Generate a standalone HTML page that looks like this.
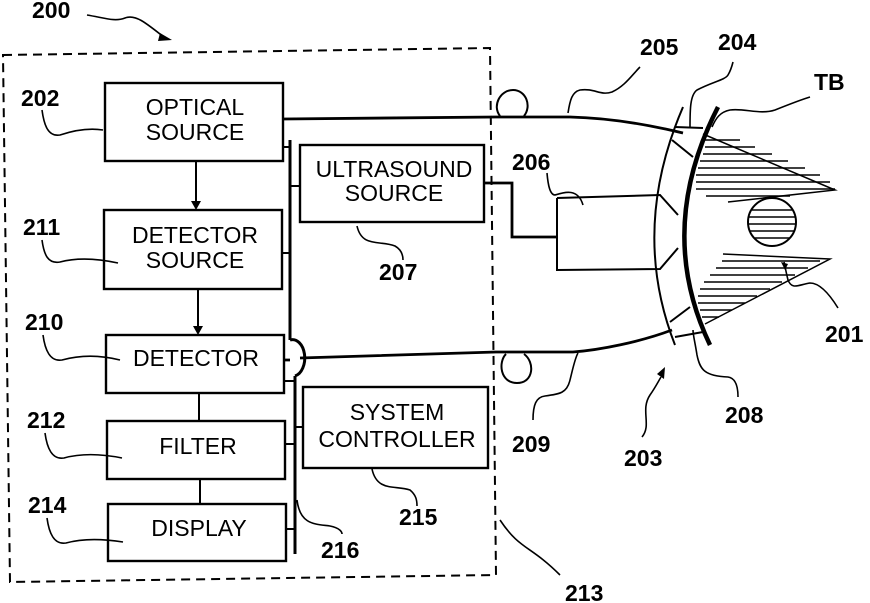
<!DOCTYPE html>
<html><head><style>body{margin:0;background:#fff}svg{display:block}</style></head><body>
<svg width="870" height="603" viewBox="0 0 870 603" xmlns="http://www.w3.org/2000/svg" font-family="Liberation Sans, sans-serif">
<g fill="none" stroke="#000" stroke-width="2.4">
<path d="M3,55 L490,48 L496,575 L10,582 Z" stroke-dasharray="9,6" stroke-width="2"/>
<rect x="105" y="83" width="178" height="78"/>
<rect x="104" y="210" width="178" height="79"/>
<rect x="106" y="335" width="178" height="58"/>
<rect x="107" y="421" width="178" height="58"/>
<rect x="108" y="504" width="178" height="57"/>
<rect x="300" y="145" width="184" height="77"/>
<rect x="303" y="387" width="185" height="81"/>
<path d="M290,140 V340 M295,376 V554" stroke-width="3"/>
<path d="M290,340 A12,18 0 0 1 295,376" stroke-width="3"/>
<path d="M283,147 H290 M282,253 H290 M290,186 H300 M284,381 H295 M285,444 H295 M295,427 H303 M286,529 H295" stroke-width="2"/>
<path d="M196,161 V201 M198,289 V326 M199,393 V421 M200,479 V504" stroke-width="2"/>
<path d="M283,119 L496,117 L570,117 C610,118 650,125 683,133" stroke-width="2.8"/>
<path d="M500,116 C492,106 500,90 513,90 C526,90 532,106 524,116" stroke-width="2"/>
<path d="M284,360 H290 M300,358 L496,352 L573,352 C600,350 640,342 672,330" stroke-width="2.8"/>
<path d="M506,354 C498,362 500,383 517,383 C534,383 535,362 524,354" stroke-width="2"/>
<path d="M484,183 H512 V237 H557" stroke-width="2.8"/>
<path d="M557,198 L660,195 L678,215 M557,198 V270 L660,269 L678,248" stroke-width="2"/>
<path d="M683,107 Q630,230 675,345" stroke-width="2"/>
<path d="M718,107 Q655,230 710,345" stroke-width="4.5"/>
<path d="M675,127 L703,128 M672,140 L693,157 M670,322 L690,307 M675,337 L703,332" stroke-width="2"/>
</g>
<polygon points="191,201 201,201 196,210" fill="#000"/>
<polygon points="193,326 203,326 198,335" fill="#000"/>
<g stroke="#000" stroke-width="1.5" fill="none">
<path d="M703,134 L835,190 L728,202"/>
<path d="M723,254 L830,259 L705,324"/>
<circle cx="772" cy="222" r="24" stroke-width="2"/>
<path d="M705,140H740M705,147H755M703,154H772M700,161H788M698,168H805M696,175H820M696,182H830M696,189H835M706,196H790"/>
<path d="M752,210H792M748,217H796M748,224H796M750,231H794M755,238H790"/>
<path d="M722,261H820M716,268H808M710,275H795M704,282H782M700,289H770M698,296H757M698,303H745M700,310H732M702,317H719"/>
</g>
<g fill="none" stroke="#000" stroke-width="1.6">
<path d="M87,15 C105,18 115,22 125,18 C135,14 145,22 165,38"/>
<path d="M42,110 C44,125 48,137 60,135 C75,130 90,128 103,130"/>
<path d="M42,240 C44,255 48,264 60,262 C75,258 95,258 118,263"/>
<path d="M43,335 C45,350 50,362 62,360 C80,355 100,355 120,360"/>
<path d="M45,433 C47,448 52,460 64,458 C82,453 102,454 122,458"/>
<path d="M47,518 C49,533 54,545 66,543 C84,538 104,539 123,542"/>
<path d="M357,226 C362,248 380,240 395,246 C402,250 403,256 403,260"/>
<path d="M372,469 C377,492 395,485 410,490 C416,495 417,500 417,506"/>
<path d="M297,500 C300,525 315,524 330,526 C340,528 342,532 342,534"/>
<path d="M500,520 C520,550 530,545 560,575"/>
<path d="M533,420 C533,405 536,397 545,396 C560,394 567,393 570,380 C573,368 575,358 578,353"/>
<path d="M642,437 C652,425 640,410 650,395 C655,388 658,382 661,377"/>
<path d="M738,397 C738,385 735,378 728,377 C705,376 700,370 697,355 C695,342 693,335 693,330"/>
<path d="M838,308 C830,295 820,283 810,283 C798,285 792,290 788,280 C786,272 785,266 784,262"/>
<path d="M547,173 C548,185 550,195 555,195 C565,192 578,188 583,205"/>
<path d="M568,113 C570,100 572,92 580,90 C595,88 600,96 612,92 C625,86 632,75 640,67"/>
<path d="M690,128 C690,110 690,95 697,90 C712,82 725,80 728,75 C731,70 732,66 733,62"/>
<path d="M712,127 C716,118 720,112 730,110 C745,108 760,115 775,110 C790,104 800,100 810,97"/>
</g>
<polygon points="160,33 172,40 158,41" fill="#000"/>
<polygon points="657,374 665,367 664,379" fill="#000"/>
<polygon points="781,262 788,264 785,270" fill="#000"/>
<g font-size="23" text-anchor="middle" fill="#000">
<text x="195" y="115">OPTICAL</text><text x="195" y="140">SOURCE</text>
<text x="195" y="243">DETECTOR</text><text x="195" y="268">SOURCE</text>
<text x="196" y="366">DETECTOR</text>
<text x="198" y="454">FILTER</text>
<text x="199" y="536">DISPLAY</text>
<text x="394" y="177">ULTRASOUND</text><text x="394" y="201">SOURCE</text>
<text x="397" y="420">SYSTEM</text><text x="397" y="447">CONTROLLER</text>
</g>
<g font-size="23" font-weight="bold" fill="#000">
<text x="32" y="18">200</text>
<text x="21" y="106">202</text>
<text x="23" y="235">211</text>
<text x="25" y="330">210</text>
<text x="27" y="428">212</text>
<text x="28" y="513">214</text>
<text x="379" y="280">207</text>
<text x="399" y="525">215</text>
<text x="321" y="558">216</text>
<text x="565" y="601">213</text>
<text x="512" y="452">209</text>
<text x="624" y="466">203</text>
<text x="725" y="423">208</text>
<text x="825" y="342">201</text>
<text x="512" y="170">206</text>
<text x="640" y="55">205</text>
<text x="718" y="50">204</text>
<text x="814" y="90">TB</text>
</g>
</svg>
</body></html>
